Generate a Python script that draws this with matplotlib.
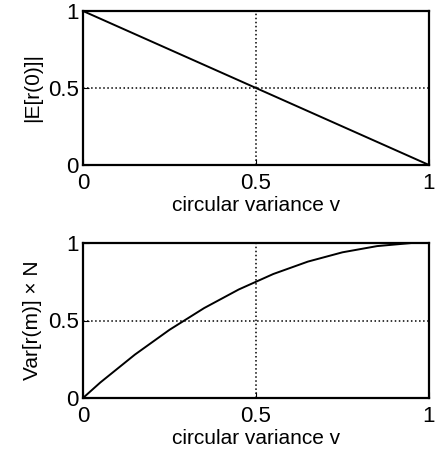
import matplotlib.pyplot as plt

plt.rcParams['font.family'] = ['Liberation Sans', 'DejaVu Sans']

# values
v = [0.0, 0.05, 0.1, 0.15, 0.2, 0.25, 0.3, 0.35, 0.4, 0.45, 0.5,
     0.55, 0.6, 0.65, 0.7, 0.75, 0.8, 0.85, 0.9, 0.95, 1.0]
mean_r0 = [1.0, 0.95, 0.9, 0.85, 0.8, 0.75, 0.7, 0.65, 0.6, 0.55, 0.5,
           0.45, 0.4, 0.35, 0.3, 0.25, 0.2, 0.15, 0.1, 0.05, 0.0]
var_rm = [0.0, 0.10, 0.19, 0.28, 0.36, 0.44, 0.51, 0.58, 0.64, 0.70, 0.75,
          0.80, 0.84, 0.88, 0.91, 0.94, 0.96, 0.98, 0.99, 1.0, 1.0]

ticks = [0, 0.5, 1]
tick_labels = ['0', '0.5', '1']

fig = plt.figure(figsize=(4.37, 4.53), dpi=100)
ax1 = fig.add_axes([83 / 437, 1 - 165 / 453, 346 / 437, 154 / 453])
ax2 = fig.add_axes([83 / 437, 1 - 398 / 453, 346 / 437, 155 / 453])

for ax, y, ylab in [(ax1, mean_r0, '|E[r(0)]|'), (ax2, var_rm, 'Var[r(m)] \u00d7 N')]:
    ax.plot(v, y, color='black', linewidth=1.4)
    ax.set_xlim(0, 1)
    ax.set_ylim(0, 1)
    ax.set_xticks(ticks)
    ax.set_xticklabels(tick_labels)
    ax.set_yticks(ticks)
    ax.set_yticklabels(tick_labels)
    ax.tick_params(direction='in', length=4, labelsize=16, pad=3)
    ax.tick_params(axis='x', pad=6)
    ax.grid(True, linestyle=':', color='black', linewidth=1.1)
    ax.set_xlabel('circular variance v', fontsize=15, labelpad=1)
    ax.set_ylabel(ylab, fontsize=15, labelpad=4)
    for s in ax.spines.values():
        s.set_linewidth(1.6)

fig.savefig('out.png', dpi=100)
